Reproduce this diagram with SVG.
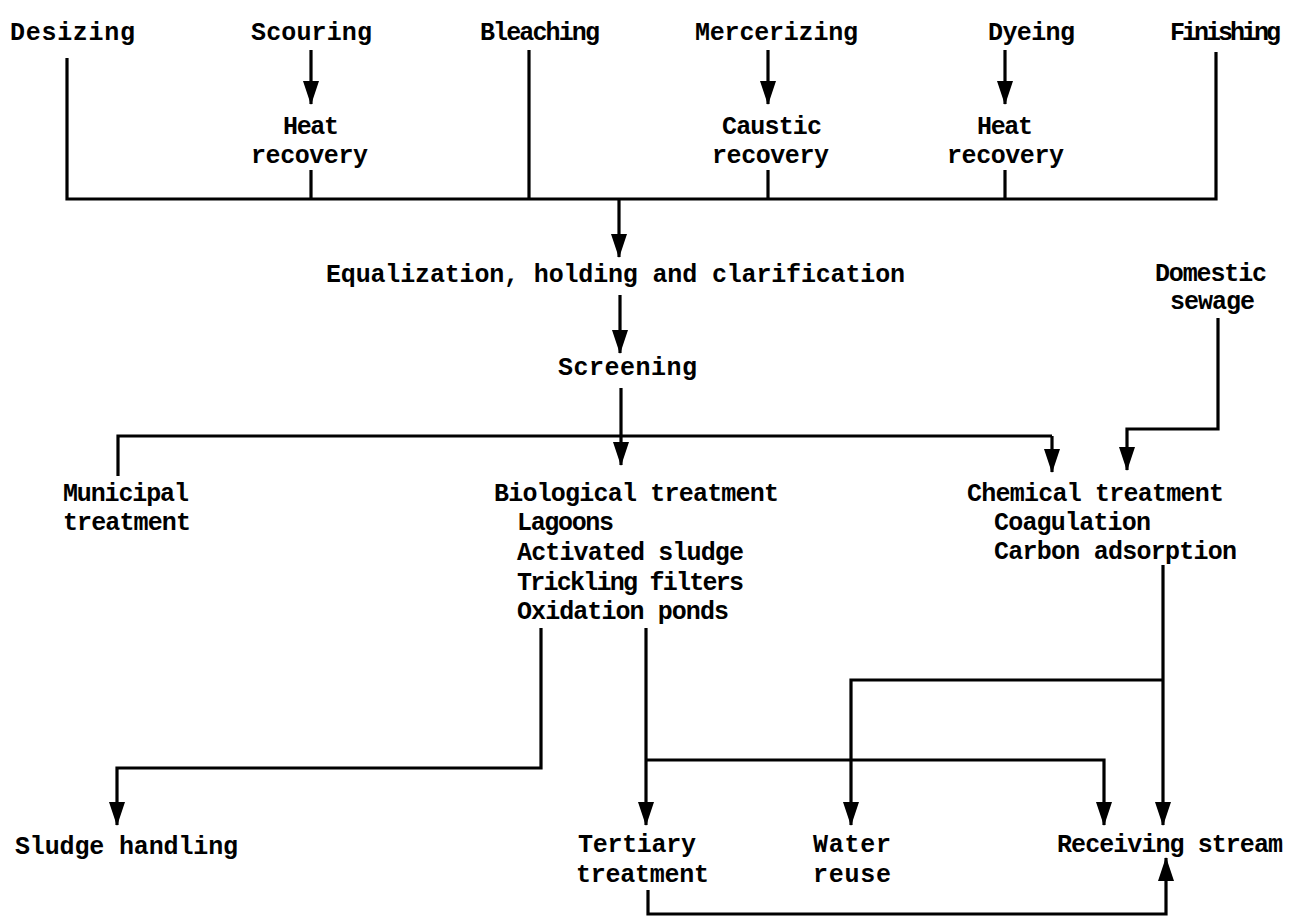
<svg xmlns="http://www.w3.org/2000/svg" width="1289" height="918" viewBox="0 0 1289 918">
<style>
text{font-family:"Liberation Mono","DejaVu Sans Mono",monospace;font-weight:bold;font-size:25px;fill:#000}
.ln{fill:none;stroke:#000;stroke-width:3.2;stroke-linejoin:miter}
.ar{fill:none;stroke:#000;stroke-width:3.2;marker-end:url(#ah)}
</style>
<defs>
<marker id="ah" markerUnits="userSpaceOnUse" markerWidth="24" markerHeight="16" viewBox="0 0 24 16" refX="23" refY="8" orient="auto">
<path d="M0,0 L24,8 L0,16 Z" fill="#000"/>
</marker>
</defs>
<rect width="1289" height="918" fill="#fff"/>
<g id="connectors">
<path class="ln" d="M67,58 V199 H1216 V52"/>
<path class="ln" d="M311,170 V199"/>
<path class="ln" d="M529,50 V199"/>
<path class="ln" d="M768,170 V199"/>
<path class="ln" d="M1005,170 V199"/>
<path class="ar" d="M311,50 V104"/>
<path class="ar" d="M768,50 V104"/>
<path class="ar" d="M1005,50 V104"/>
<path class="ar" d="M619,199 V257"/>
<path class="ar" d="M620,295 V353"/>
<path class="ar" d="M621,388 V465"/>
<path class="ln" d="M118,476 V436 H1052"/>
<path class="ar" d="M1052,436 V472"/>
<path class="ar" d="M1218,318 V429 H1127 V470"/>
<path class="ar" d="M541,628 V768 H117 V825"/>
<path class="ar" d="M646,628 V825"/>
<path class="ar" d="M646,760 H1104 V825"/>
<path class="ar" d="M1163,565 V825"/>
<path class="ar" d="M1163,680 H851 V825"/>
<path class="ar" d="M648,890 V914 H1166 V858"/>
</g>
<g id="desizing"><text x="10" y="40" textLength="125">Desizing</text></g>
<g id="scouring"><text x="251" y="40" textLength="121">Scouring</text></g>
<g id="heat-recovery-1"><text x="283" y="134" textLength="56">Heat</text><text x="251" y="163" textLength="117">recovery</text></g>
<g id="bleaching"><text x="480" y="40" textLength="120">Bleaching</text></g>
<g id="mercerizing"><text x="695" y="40" textLength="163">Mercerizing</text></g>
<g id="caustic-recovery"><text x="722" y="134" textLength="100">Caustic</text><text x="712" y="163" textLength="117">recovery</text></g>
<g id="dyeing"><text x="988" y="40" textLength="87">Dyeing</text></g>
<g id="heat-recovery-2"><text x="977" y="134" textLength="56">Heat</text><text x="947" y="163" textLength="117">recovery</text></g>
<g id="finishing"><text x="1170" y="40" textLength="111">Finishing</text></g>
<g id="equalization"><text x="326" y="282" textLength="579">Equalization, holding and clarification</text></g>
<g id="screening"><text x="558" y="375" textLength="139">Screening</text></g>
<g id="domestic-sewage"><text x="1155" y="281" textLength="112">Domestic</text><text x="1170" y="309" textLength="85">sewage</text></g>
<g id="municipal"><text x="63" y="501" textLength="126">Municipal</text><text x="63" y="530" textLength="128">treatment</text></g>
<g id="biological"><text x="494" y="501" textLength="285">Biological treatment</text><text x="517" y="530" textLength="97">Lagoons</text><text x="517" y="560" textLength="227">Activated sludge</text><text x="517" y="590" textLength="227">Trickling filters</text><text x="517" y="619" textLength="212">Oxidation ponds</text></g>
<g id="chemical"><text x="967" y="501" textLength="257">Chemical treatment</text><text x="994" y="530" textLength="157">Coagulation</text><text x="994" y="559" textLength="243">Carbon adsorption</text></g>
<g id="sludge"><text x="15" y="854" textLength="223">Sludge handling</text></g>
<g id="tertiary"><text x="578" y="852" textLength="118">Tertiary</text><text x="576" y="882" textLength="133">treatment</text></g>
<g id="water-reuse"><text x="813" y="852" textLength="78">Water</text><text x="813" y="882" textLength="78">reuse</text></g>
<g id="receiving"><text x="1057" y="852" textLength="226">Receiving stream</text></g>
</svg>
